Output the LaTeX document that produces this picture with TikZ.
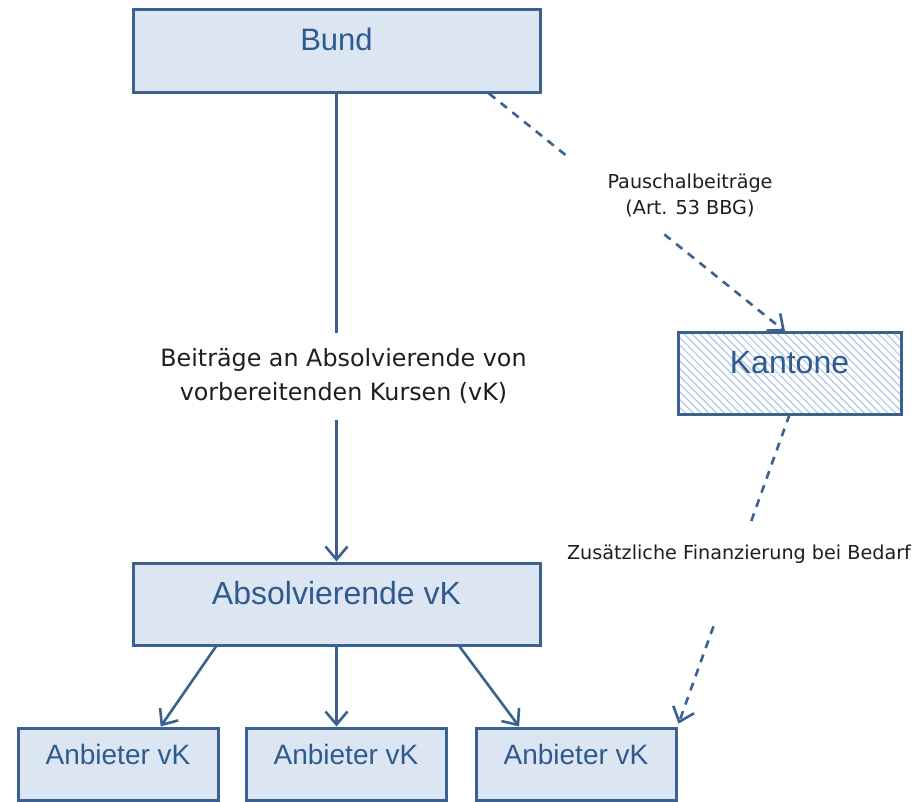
\documentclass[tikz,border=0pt]{standalone}
\usepackage{fontspec}
\setmainfont{Liberation Sans}
\newfontfamily\labelfont{DejaVu Sans}
\usetikzlibrary{arrows.meta,calc,patterns.meta}
\definecolor{boxline}{HTML}{3A6190}
\definecolor{boxfill}{HTML}{DCE6F2}
\definecolor{boxtext}{HTML}{2F5A8F}
\definecolor{hatchcol}{HTML}{B4C8E2}
\definecolor{labeltext}{HTML}{1E1E1E}
\tikzset{
  box/.style={draw=boxline, line width=3pt, fill=boxfill, text=boxtext,
    inner xsep=0pt, inner ysep=0pt},
  boxsize/.style 2 args={minimum width=#1, text height=#2, text depth=#2},
  hatchbox/.style={draw=boxline, line width=3pt, text=boxtext,
    inner xsep=0pt, inner ysep=0pt,
    pattern={Lines[angle=-45,distance=5.5pt,line width=1.2pt]}, pattern color=hatchcol},
  conn/.style={draw=boxline, line width=2.6pt},
  dashconn/.style={conn, dash pattern=on 8pt off 7pt},
  arr/.style={-{Straight Barb[length=13pt,width=22pt,line width=2.6pt]}},
  lbl/.style={fill=white, text=labeltext, align=center, inner sep=0pt},
  bigtext/.style={font=\fontsize{32pt}{38pt}\selectfont},
  midtext/.style={font=\fontsize{28pt}{34pt}\selectfont},
}
\begin{document}
\begin{tikzpicture}[x=1pt,y=-1pt]
\fill[white] (0,0) rectangle (920,801);
\useasboundingbox (0,0) rectangle (920,801);

% boxes
\node[box, boxsize={407pt}{41.5pt}, font=\fontsize{31pt}{37pt}\selectfont] (Bund) at (336.5,50.5) {Bund};
\node[hatchbox, boxsize={223pt}{41pt}, bigtext] (Kantone) at (789.5,373) {Kantone};
\node[box, boxsize={407pt}{41pt}, bigtext] (Absol) at (336.5,604) {Absolvierende vK};
\node[box, boxsize={200pt}{36pt}, midtext] (Anb1) at (118,764) {Anbieter vK};
\node[box, boxsize={200pt}{36pt}, midtext] (Anb2) at (346,764) {Anbieter vK};
\node[box, boxsize={200pt}{36pt}, midtext] (Anb3) at (576,764) {Anbieter vK};

% connectors
\draw[conn, arr] (Bund) -- (Absol);
\draw[dashconn, arr] ($(Bund.south west)!0.872!(Bund.south east)$) -- ($(Kantone.north west)!0.48!(Kantone.north east)$);
\draw[dashconn, arr, shorten >=3pt] (Kantone.south) -- (Anb3.north east);
\draw[conn, arr] ($(Absol.south west)!0.206!(Absol.south east)$) -- ($(Anb1.north west)!0.71!(Anb1.north east)$);
\draw[conn, arr] (Absol.south) -- (Absol.south |- Anb2.north);
\draw[conn, arr] ($(Absol.south west)!0.8!(Absol.south east)$) -- ($(Anb3.north west)!0.22!(Anb3.north east)$);

% labels
\node[lbl, minimum width=380pt, minimum height=87pt, font=\labelfont\fontsize{23.8pt}{34pt}\selectfont] (lblA) at (343.5,376.5)
  {Beiträge an Absolvierende von\\vorbereitenden Kursen (vK)};
\node[lbl, minimum width=250pt, minimum height=76pt, font=\labelfont\fontsize{19.2pt}{26pt}\selectfont] (lblB) at (690,195)
  {Pauschalbeiträge\\(Art. 53 BBG)};
\node[lbl, inner xsep=2pt, text height=32.7pt, text depth=65.3pt, anchor=base, font=\labelfont\fontsize{19.2pt}{24pt}\selectfont] (lblC) at (739,559.7)
  {Zusätzliche Finanzierung bei Bedarf};
\end{tikzpicture}
\end{document}
